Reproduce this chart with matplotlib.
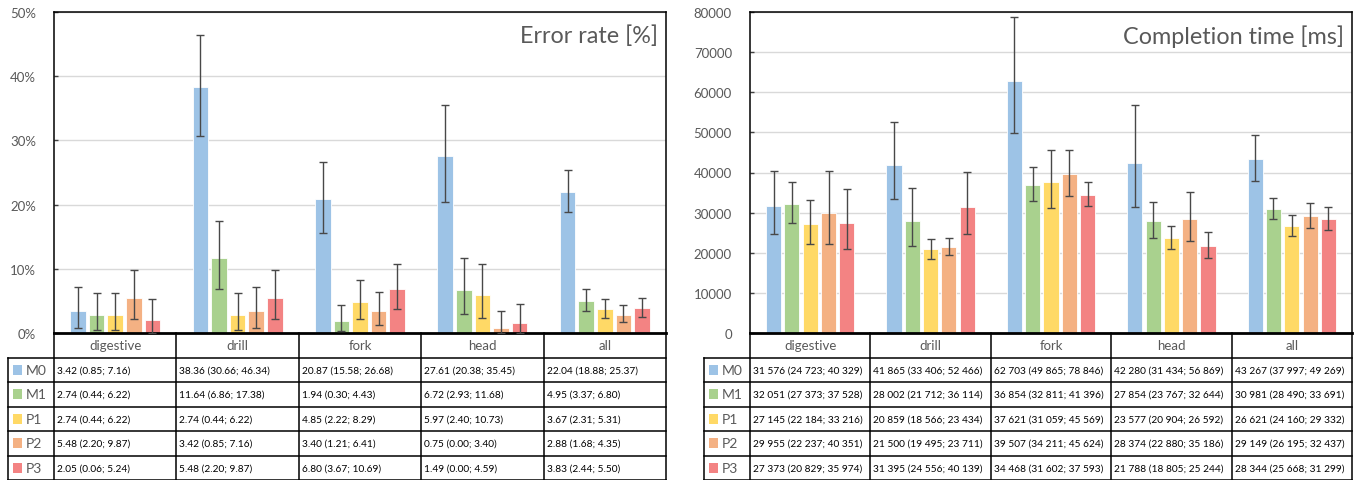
import numpy as np
import matplotlib.pyplot as plt
from matplotlib.patches import Rectangle

plt.rcParams['font.family'] = ['Lato', 'DejaVu Sans']

categories = ['digestive', 'drill', 'fork', 'head', 'all']
series = ['M0', 'M1', 'P1', 'P2', 'P3']
colors = ['#9DC3E6', '#A9D18E', '#FFD966', '#F4B183', '#F38383']

# error rate [%]: value, lower CI, upper CI
err_val = {
  'M0': [3.42, 38.36, 20.87, 27.61, 22.04],
  'M1': [2.74, 11.64, 1.94, 6.72, 4.95],
  'P1': [2.74, 2.74, 4.85, 5.97, 3.67],
  'P2': [5.48, 3.42, 3.40, 0.75, 2.88],
  'P3': [2.05, 5.48, 6.80, 1.49, 3.83],
}
err_lo = {
  'M0': [0.85, 30.66, 15.58, 20.38, 18.88],
  'M1': [0.44, 6.86, 0.30, 2.93, 3.37],
  'P1': [0.44, 0.44, 2.22, 2.40, 2.31],
  'P2': [2.20, 0.85, 1.21, 0.00, 1.68],
  'P3': [0.06, 2.20, 3.67, 0.00, 2.44],
}
err_hi = {
  'M0': [7.16, 46.34, 26.68, 35.45, 25.37],
  'M1': [6.22, 17.38, 4.43, 11.68, 6.80],
  'P1': [6.22, 6.22, 8.29, 10.73, 5.31],
  'P2': [9.87, 7.16, 6.41, 3.40, 4.35],
  'P3': [5.24, 9.87, 10.69, 4.59, 5.50],
}

# completion time [ms]
time_val = {
  'M0': [31576, 41865, 62703, 42280, 43267],
  'M1': [32051, 28002, 36854, 27854, 30981],
  'P1': [27145, 20859, 37621, 23577, 26621],
  'P2': [29955, 21500, 39507, 28374, 29149],
  'P3': [27373, 31395, 34468, 21788, 28344],
}
time_lo = {
  'M0': [24723, 33406, 49865, 31434, 37997],
  'M1': [27373, 21712, 32811, 23767, 28490],
  'P1': [22184, 18566, 31059, 20904, 24160],
  'P2': [22237, 19495, 34211, 22880, 26195],
  'P3': [20829, 24556, 31602, 18805, 25668],
}
time_hi = {
  'M0': [40329, 52466, 78846, 56869, 49269],
  'M1': [37528, 36114, 41396, 32644, 33691],
  'P1': [33216, 23434, 45569, 26592, 29332],
  'P2': [40351, 23711, 45624, 35186, 32437],
  'P3': [35974, 40139, 37593, 25244, 31299],
}

W, H = 1354.0, 481.0
GRAY = '#595959'


def fmt_err(v, lo, hi):
  return "%.2f (%.2f; %.2f)" % (v, lo, hi)


def sp(v):
  return "{:,}".format(v).replace(",", " ")


def fmt_time(v, lo, hi):
  return "%s (%s; %s)" % (sp(v), sp(lo), sp(hi))


def panel(x0, x1, lab_px, vals, los, his, ymax, ystep, yfmt, title, cellfmt, cellsize):
  ax = fig.add_axes([x0/W, (H-334)/H, (x1-x0)/W, (334-13)/H])
  tb = fig.add_axes([x0/W, 0, (x1-x0)/W, (H-334)/H])
  x = np.arange(len(categories))
  pitch, bw = 0.152, 0.126
  for i, s in enumerate(series):
    v = np.array(vals[s], dtype=float)
    lo = v - np.array(los[s], dtype=float)
    hi = np.array(his[s], dtype=float) - v
    ax.bar(x + (i-2)*pitch, v, bw, color=colors[i], edgecolor='white', linewidth=0.6, zorder=2)
    ax.errorbar(x + (i-2)*pitch, v, yerr=[lo, hi], fmt='none', ecolor='#484848',
                elinewidth=1, capsize=3, capthick=1, zorder=3)
  ax.set_xlim(-0.5, len(categories)-0.5)
  ax.set_ylim(0, ymax)
  ax.set_yticks(np.arange(0, ymax+1, ystep))
  ax.set_yticklabels([yfmt(t) for t in np.arange(0, ymax+1, ystep)])
  ax.set_xticks([])
  ax.tick_params(axis='y', direction='in', length=3, width=1, color='#404040',
                 pad=13, labelsize=9.5, labelcolor=GRAY)
  ax.yaxis.grid(True, color='#D9D9D9', linewidth=1)
  ax.set_axisbelow(True)
  for k in ['left', 'top', 'right']:
    ax.spines[k].set_linewidth(1.1)
  ax.spines['bottom'].set_linewidth(2)
  ax.text(0.987, 0.962, title, transform=ax.transAxes, ha='right', va='top',
          fontsize=16.8, color=GRAY)

  # data table
  n = len(categories)
  ppu = (x1 - x0) / float(n)
  lab_left = -0.5 - lab_px/ppu
  tb.set_xlim(-0.5, n-0.5)
  tb.set_ylim(6, 0)
  tb.axis('off')
  kw = dict(color='black', linewidth=1.1, clip_on=False)
  for r in range(1, 7):
    tb.plot([lab_left, n-0.5], [r, r], **kw)
  for c in range(n+1):
    tb.plot([c-0.5, c-0.5], [0, 6], **kw)
  tb.plot([lab_left, lab_left], [1, 6], **kw)
  for c, name in enumerate(categories):
    tb.text(c, 0.5, name, ha='center', va='center', fontsize=9.5, color=GRAY)
  for r, s in enumerate(series):
    y = r + 1.5
    tb.add_patch(Rectangle((lab_left + 5/ppu, y - 0.2), 9/ppu, 0.4,
                           facecolor=colors[r], edgecolor='none', clip_on=False))
    tb.text(lab_left + 18/ppu, y, s, ha='left', va='center', fontsize=10, color=GRAY)
    for c in range(n):
      tb.text(c - 0.5 + 3/ppu, y, cellfmt(vals[s][c], los[s][c], his[s][c]),
              ha='left', va='center', fontsize=cellsize, color='black')
  return ax


fig = plt.figure(figsize=(W/100, H/100), dpi=100)
panel(54, 666, 46, err_val, err_lo, err_hi, 50, 10, lambda t: "%d%%" % t,
      "Error rate [%]", fmt_err, 7.3)
panel(750, 1352, 46, time_val, time_lo, time_hi, 80000, 10000, lambda t: "%d" % t,
      "Completion time [ms]", fmt_time, 7.3)
plt.savefig("out.png", dpi=100)
